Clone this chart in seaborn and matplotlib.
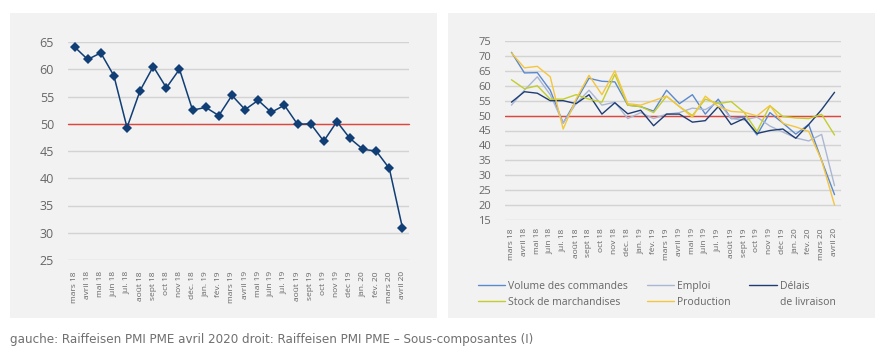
import numpy as np
import pandas as pd
import matplotlib
matplotlib.use("Agg")
import matplotlib.pyplot as plt
from matplotlib.patches import Rectangle
import seaborn as sns

# --- data ---
months = ["mars 18", "avril 18", "mai 18", "juin 18", "jui. 18", "août 18", "sept 18",
          "oct 18", "nov 18", "déc. 18", "jan. 19", "fév. 19", "mars 19", "avril 19",
          "mai 19", "juin 19", "jui. 19", "août 19", "sept 19", "oct 19", "nov 19",
          "déc 19", "jan. 20", "fév. 20", "mars 20", "avril 20"]

pmi = [64.1, 61.8, 63.0, 58.8, 49.3, 56.1, 60.5, 56.6, 60.0, 52.5, 53.0, 51.5, 55.2,
       52.6, 54.3, 52.1, 53.4, 49.9, 50.0, 46.8, 50.4, 47.3, 45.3, 45.0, 41.8, 30.9]

volume = [71.2, 64.3, 64.4, 58.5, 47.5, 55.0, 62.5, 61.5, 61.3, 53.5, 53.0, 51.5, 58.5,
          54.0, 57.0, 50.5, 55.5, 49.0, 49.5, 43.5, 51.0, 47.5, 43.8, 47.0, 35.0, 23.5]
emploi = [53.5, 58.5, 63.0, 57.0, 47.5, 54.0, 58.5, 53.5, 54.5, 49.0, 51.0, 49.0, 50.5,
          51.0, 52.5, 52.0, 54.5, 49.0, 48.5, 49.5, 46.5, 44.5, 42.5, 41.5, 43.7, 26.5]
delais = [54.5, 58.0, 57.5, 55.0, 55.0, 54.0, 57.0, 50.5, 54.3, 50.6, 51.8, 46.6, 50.5,
          50.5, 47.8, 48.3, 53.0, 47.0, 49.0, 44.0, 45.0, 45.5, 42.4, 47.0, 52.0, 57.8]
stock = [62.0, 59.0, 60.0, 55.5, 55.5, 57.0, 55.5, 54.5, 63.8, 53.5, 53.0, 51.0, 56.5,
         53.0, 50.0, 55.5, 54.0, 54.7, 51.1, 44.7, 53.3, 49.7, 49.2, 49.0, 50.4, 43.5]
production = [71.0, 66.0, 66.5, 63.0, 45.5, 55.5, 63.5, 57.0, 65.0, 54.0, 53.5, 55.0, 56.5,
              53.0, 49.5, 56.5, 53.0, 51.4, 51.1, 49.9, 53.4, 47.4, 46.2, 44.7, 35.0, 20.0]

series_names = ["Volume des commandes", "Emploi", "Délais",
                "Stock de marchandises", "Production"]
series_values = [volume, emploi, delais, stock, production]
series_colors = ["#5b89cc", "#aab7d3", "#1f3d73", "#c3cd2c", "#f4c63f"]

caption = "gauche: Raiffeisen PMI PME avril 2020 droit: Raiffeisen PMI PME – Sous-composantes (I)"

# --- style ---
sns.set_theme(style="white")
plt.rcParams["font.family"] = ["Open Sans", "DejaVu Sans"]
grey_txt = "#666666"
grid_col = "#d3d3d3"
panel_col = "#f2f2f2"

fig = plt.figure(figsize=(8.89, 3.64), dpi=100)
fig.patch.set_facecolor("white")

# grey panels behind the two charts
for x0 in (10 / 889, 448 / 889):
    fig.patches.append(Rectangle((x0, 46 / 364), 427 / 889, 305 / 364,
                                 transform=fig.transFigure, facecolor=panel_col,
                                 edgecolor="none", zorder=-5))

x = np.arange(len(months))

# --- left chart ---
ax1 = fig.add_axes([68 / 889, (364 - 260) / 364, 341 / 889, 218 / 364])
ax1.set_facecolor("none")
ax1.axhline(50, color="#e0463c", lw=1.0, zorder=2)
sns.lineplot(x=x, y=pmi, ax=ax1, color="#103e75", lw=1.1, marker="D", markersize=5,
             markeredgewidth=0, zorder=3)
for spine in ax1.spines.values():
    spine.set_visible(False)
ax1.set_ylim(25, 65)
ax1.set_yticks(range(25, 66, 5))
ax1.set_xlim(-0.5, len(months) - 0.5)
ax1.set_xticks(x)
ax1.set_xticklabels(months, rotation=90, fontsize=6, color=grey_txt)
ax1.tick_params(axis="y", labelsize=9, labelcolor=grey_txt, length=0, pad=10)
ax1.tick_params(axis="x", length=0, pad=8)
ax1.yaxis.grid(True, color=grid_col, lw=1.0)
ax1.xaxis.grid(False)
ax1.set_axisbelow(True)
for l in ax1.lines:
    l.set_clip_on(False)

# --- right chart ---
ax2 = fig.add_axes([505 / 889, (364 - 220) / 364, 336 / 889, 179 / 364])
ax2.set_facecolor("none")
ax2.axhline(50, color="#e0463c", lw=1.0, zorder=1)
for name, vals, col in zip(series_names, series_values, series_colors):
    sns.lineplot(x=x, y=vals, ax=ax2, color=col, lw=1.0, label=name, zorder=2)
if ax2.get_legend() is not None:
    ax2.get_legend().remove()
for spine in ax2.spines.values():
    spine.set_visible(False)
ax2.set_ylim(15, 75)
ax2.set_yticks(range(15, 76, 5))
ax2.set_xlim(-0.5, len(months) - 0.5)
ax2.set_xticks(x)
ax2.set_xticklabels(months, rotation=90, fontsize=6, color=grey_txt)
ax2.tick_params(axis="y", labelsize=8, labelcolor=grey_txt, length=0, pad=10)
ax2.tick_params(axis="x", length=0, pad=6)
ax2.yaxis.grid(True, color=grid_col, lw=1.0)
ax2.xaxis.grid(False)
ax2.set_axisbelow(True)

handles, labels = ax2.get_legend_handles_labels()
order = [0, 3, 1, 4, 2]
leg = fig.legend([handles[i] for i in order], [labels[i] for i in order],
                 loc="upper left", bbox_to_anchor=(478 / 889, 1 - 281 / 364),
                 ncol=3, frameon=False, fontsize=7.5, handlelength=2.6,
                 handletextpad=0.3, columnspacing=1.8, labelspacing=0.45,
                 borderpad=0, borderaxespad=0)
for t in leg.get_texts():
    t.set_color(grey_txt)

# second line of the "Délais" label, placed under its legend text
fig.canvas.draw()
bb = leg.get_texts()[4].get_window_extent().transformed(fig.transFigure.inverted())
row2 = leg.get_texts()[1].get_window_extent().transformed(fig.transFigure.inverted())
fig.text(bb.x0, row2.y0, "de livraison", ha="left", va="bottom", fontsize=7.5,
         color=grey_txt)

fig.text(10 / 889, 1 - 340 / 364, caption, ha="left", va="center", fontsize=9.5,
         color="#707070", family="DejaVu Sans", fontstretch="condensed")

fig.savefig("out.png", dpi=100, facecolor="white")
